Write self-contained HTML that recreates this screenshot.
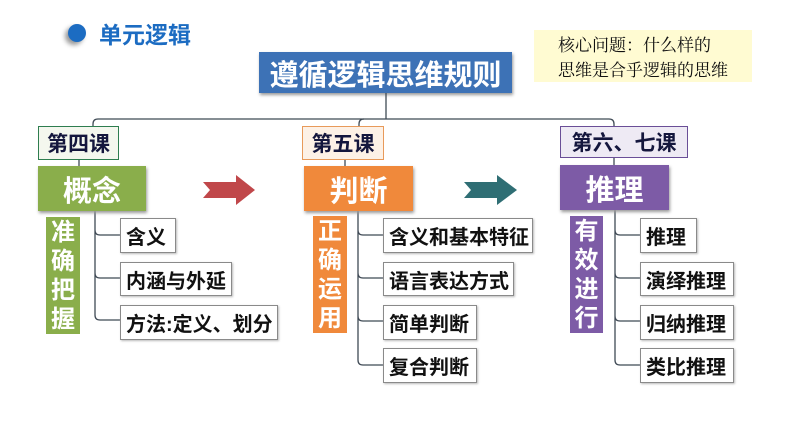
<!DOCTYPE html>
<html><head><meta charset="utf-8"><style>
body{margin:0;width:794px;height:447px;background:#fff;position:relative;overflow:hidden;font-family:"Liberation Sans","Noto Sans CJK SC",sans-serif;}
.a{position:absolute;box-sizing:border-box;display:flex;align-items:center;justify-content:center;font-weight:bold;white-space:nowrap}
.c{background:#fff;border:1px solid #8a8a8a;color:#111;font-size:20px;justify-content:flex-start;padding-left:5px;box-shadow:1px 1px 2px #bbb}
.big{color:#fff;font-size:29px;box-shadow:1px 2px 3px #999}
.lab{font-size:21px;color:#14163d}
.v{color:#fff;font-size:24px;flex-direction:column;line-height:29px}
</style></head><body>
<div style="position:absolute;left:68px;top:24px;width:18px;height:18px;border-radius:50%;background:#1c6cc2;box-shadow:-3px 3px 5px #999"></div>
<div class="a" style="left:99px;top:18px;height:30px;font-size:23px;color:#1c6cc2">单元逻辑</div>
<div class="a" style="left:534px;top:30px;width:218px;height:52px;background:#fffbd2;flex-direction:column;font-weight:normal;font-family:'Noto Serif CJK SC','WenQuanYi Zen Hei',serif;font-size:17px;line-height:25px;color:#111">核心问题：什么样的<br>思维是合乎逻辑的思维</div>
<div class="a big" style="left:259px;top:52px;width:253px;height:41px;background:#3d72b6;font-size:29px">遵循逻辑思维规则</div>
<svg style="position:absolute;left:0;top:0" width="794" height="447">
<g fill="none" stroke="#3f4a55" stroke-width="1.3">
<path d="M386 93V119"/>
<path d="M93 126V124Q93 119 98 119H609Q614 119 614 124V126"/>
<path d="M359 126V124Q359 119 364 119"/>
<path d="M79 160V166M345 160V166M614 158V165"/>
<path d="M95 211V315Q95 320 100 320H120M95 230Q95 235 100 235H120M95 273Q95 278 100 278H120"/>
<path d="M358 211V360Q358 365 363 365H383M358 230Q358 235 363 235H383M358 273Q358 278 363 278H383M358 316Q358 321 363 321H383"/>
<path d="M615 210V360Q615 365 620 365H640M615 230Q615 235 620 235H640M615 273Q615 278 620 278H640M615 316Q615 321 620 321H640"/>
</g>
<polygon points="203,182 236,182 236,175 255,190 236,205 236,198 203,198 210,190" fill="#c0474a"/>
<polygon points="464,182 497,182 497,175 517,190 497,205 497,198 464,198 471,190" fill="#2f6e74"/>
</svg>
<div class="a lab" style="left:38px;top:126px;width:81px;height:34px;border:1px solid #2e7d4f;background:#f4f7ee">第四课</div>
<div class="a lab" style="left:302px;top:126px;width:82px;height:34px;border:1px solid #e89a5a;background:#fdf1e6">第五课</div>
<div class="a lab" style="left:560px;top:126px;width:128px;height:32px;border:1px solid #6a4e97;background:#eeeaf4">第六、七课</div>
<div class="a big" style="left:38px;top:166px;width:108px;height:45px;background:#8aae4b">概念</div>
<div class="a big" style="left:304px;top:166px;width:109px;height:45px;background:#f0893b">判断</div>
<div class="a big" style="left:560px;top:165px;width:109px;height:45px;background:#7d5ba6">推理</div>
<div class="a v" style="left:46px;top:217px;width:34px;height:117px;background:#8aae4b">准<br>确<br>把<br>握</div>
<div class="a v" style="left:313px;top:216px;width:34px;height:117px;background:#f0893b">正<br>确<br>运<br>用</div>
<div class="a v" style="left:570px;top:216px;width:33px;height:117px;background:#7d5ba6">有<br>效<br>进<br>行</div>
<div class="a c" style="left:120px;top:218px;width:56px;height:35px">含义</div>
<div class="a c" style="left:120px;top:262px;width:112px;height:34px">内涵与外延</div>
<div class="a c" style="left:120px;top:305px;width:158px;height:35px">方法:定义、划分</div>
<div class="a c" style="left:383px;top:218px;width:150px;height:35px">含义和基本特征</div>
<div class="a c" style="left:383px;top:262px;width:131px;height:34px">语言表达方式</div>
<div class="a c" style="left:383px;top:305px;width:94px;height:35px">简单判断</div>
<div class="a c" style="left:383px;top:348px;width:94px;height:35px">复合判断</div>
<div class="a c" style="left:640px;top:218px;width:57px;height:35px">推理</div>
<div class="a c" style="left:640px;top:262px;width:94px;height:34px">演绎推理</div>
<div class="a c" style="left:640px;top:305px;width:94px;height:35px">归纳推理</div>
<div class="a c" style="left:640px;top:348px;width:94px;height:35px">类比推理</div>
</body></html>
